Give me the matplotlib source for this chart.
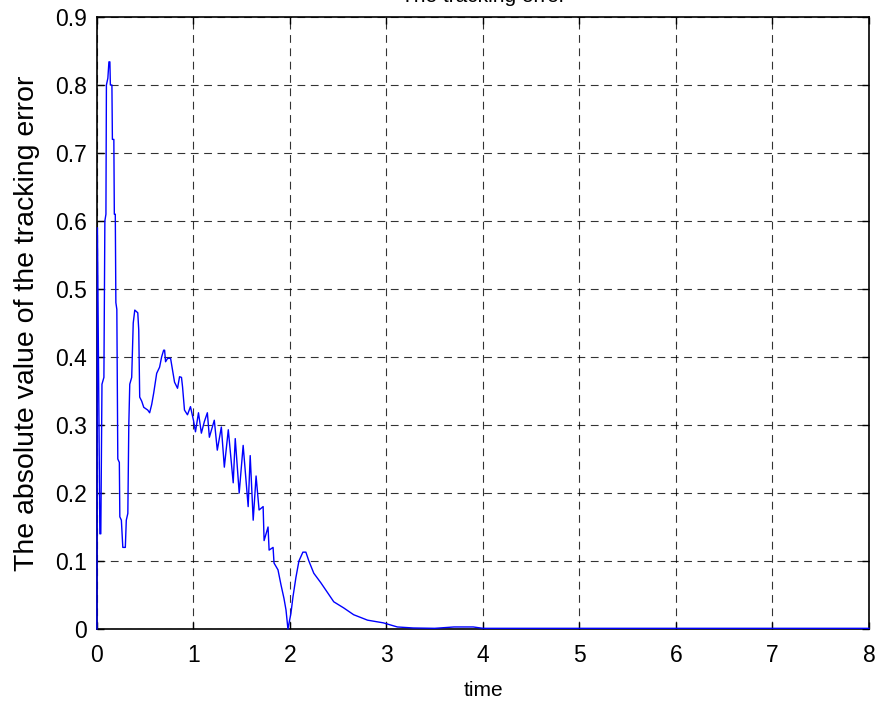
import matplotlib
matplotlib.use("Agg")
import matplotlib.pyplot as plt

plt.rcParams['font.family'] = ['Liberation Sans', 'DejaVu Sans']

# absolute tracking error
time = [0.0, 0.005, 0.03, 0.04, 0.052, 0.072, 0.082, 0.093, 0.098, 0.113,
        0.124, 0.134, 0.139, 0.155, 0.16, 0.175, 0.18, 0.19, 0.196, 0.206,
        0.216, 0.232, 0.237, 0.253, 0.268, 0.294, 0.304, 0.32, 0.33, 0.34,
        0.36, 0.376, 0.392, 0.423, 0.433, 0.443, 0.464, 0.485, 0.526, 0.546,
        0.567, 0.588, 0.619, 0.649, 0.67, 0.691, 0.701, 0.711, 0.732, 0.763,
        0.784, 0.804, 0.835, 0.856, 0.876, 0.887, 0.907, 0.938, 0.969, 1.0,
        1.021, 1.052, 1.082, 1.113, 1.144, 1.165, 1.216, 1.247, 1.289, 1.32,
        1.361, 1.412, 1.433, 1.474, 1.515, 1.567, 1.588, 1.619, 1.649, 1.68,
        1.722, 1.732, 1.773, 1.784, 1.825, 1.835, 1.876, 1.907, 1.938, 1.959,
        1.979, 2.01, 2.031, 2.062, 2.093, 2.134, 2.165, 2.196, 2.247, 2.32,
        2.392, 2.454, 2.557, 2.66, 2.804, 2.969, 3.113, 3.278, 3.5, 3.7,
        3.9, 4.0, 4.5, 5.0, 8.0]
error = [0.0, 0.59, 0.14, 0.14, 0.36, 0.37, 0.60, 0.61, 0.80, 0.81,
         0.834, 0.834, 0.80, 0.80, 0.72, 0.72, 0.61, 0.61, 0.48, 0.47,
         0.25, 0.245, 0.165, 0.16, 0.12, 0.12, 0.16, 0.17, 0.30, 0.36,
         0.37, 0.45, 0.469, 0.465, 0.44, 0.341, 0.335, 0.326, 0.322, 0.318,
         0.33, 0.347, 0.376, 0.385, 0.40, 0.41, 0.41, 0.393, 0.398, 0.398,
         0.38, 0.363, 0.354, 0.371, 0.37, 0.356, 0.322, 0.315, 0.327, 0.307,
         0.29, 0.318, 0.288, 0.305, 0.318, 0.282, 0.307, 0.263, 0.297, 0.238,
         0.293, 0.215, 0.28, 0.2, 0.27, 0.18, 0.255, 0.16, 0.225, 0.175,
         0.18, 0.13, 0.15, 0.116, 0.12, 0.097, 0.087, 0.065, 0.045, 0.028,
         0.0, 0.023, 0.047, 0.076, 0.1, 0.113, 0.113, 0.1, 0.082, 0.068,
         0.053, 0.04, 0.031, 0.021, 0.013, 0.009, 0.003, 0.0015, 0.001, 0.003,
         0.003, 0.001, 0.001, 0.001, 0.001]

xticks = [0, 1, 2, 3, 4, 5, 6, 7, 8]
yticks = [0, 0.1, 0.2, 0.3, 0.4, 0.5, 0.6, 0.7, 0.8, 0.9]

fig = plt.figure(figsize=(8.83, 7.05), dpi=100)
ax = fig.add_axes([0.1098, 0.1078, 0.8743, 0.8681])

ax.plot(time, error, color='#0000ff', linewidth=1.0, zorder=3, clip_on=False)

ax.set_xlim(0, 8)
ax.set_ylim(0, 0.9)
ax.set_xticks(xticks)
ax.set_yticks(yticks)
ax.set_xticklabels([str(v) for v in xticks])
ax.set_yticklabels(['0'] + ['%.1f' % v for v in yticks[1:]])

ax.grid(True, color='black', linestyle=(0, (7, 5)), linewidth=0.8, alpha=0.8)
ax.tick_params(direction='in', top=True, right=True, length=5, width=1,
               labelsize=16.5)
ax.tick_params(axis='x', pad=11)
ax.tick_params(axis='y', pad=7)
for s in ax.spines.values():
    s.set_linewidth(1.2)

ax.set_xlabel('time', fontsize=15, labelpad=10)
ax.set_ylabel('The absolute value of the tracking error', fontsize=20.5, labelpad=11)
fig.text(0.547, 0.9972, 'The tracking error', ha='center', va='baseline', fontsize=15)

fig.savefig('out.png', dpi=100, facecolor='white')
